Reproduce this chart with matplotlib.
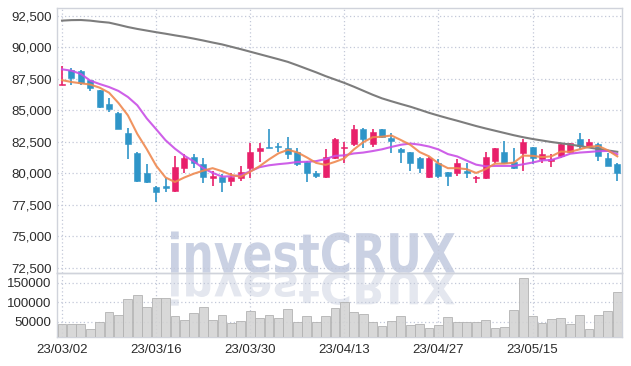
import matplotlib
matplotlib.use("Agg")
import matplotlib.pyplot as plt
import numpy as np
from matplotlib.textpath import TextPath
from matplotlib.font_manager import FontProperties
from matplotlib.patches import PathPatch
from matplotlib.transforms import Affine2D

# ---------------- data ----------------
tick_idx = [0, 10, 20, 30, 40, 50]
tick_labels = ["23/03/02", "23/03/16", "23/03/30", "23/04/13", "23/04/27", "23/05/15"]

opens = [87000, 88200, 88100, 87400, 86600, 85500, 84800, 83200, 81600, 80000,
         78900, 79000, 78600, 80400, 81300, 80700, 79600, 79700, 79400, 79600,
         80400, 81800, 82100, 82200, 82000, 81700, 80900, 80000, 79700, 81200,
         82000, 82300, 83500, 82300, 83500, 82800, 81900, 81700, 81200, 79700,
         80800, 80100, 80000, 80200, 79600, 79600, 81000, 81700, 80900, 81600,
         82100, 81100, 81000, 81400, 81700, 82700, 82200, 82300, 81200, 80700]
highs = [88500, 88400, 88200, 87400, 86600, 86000, 84900, 83600, 81700, 80700,
         79000, 79600, 81400, 81500, 81500, 81200, 80200, 79900, 80000, 80600,
         82400, 82400, 83500, 82400, 82900, 82000, 81000, 80200, 81900, 82800,
         82500, 83800, 83600, 83500, 83500, 83200, 82000, 81700, 81300, 81300,
         81100, 80100, 81100, 80800, 79800, 81700, 82000, 82600, 82000, 82700,
         82100, 81900, 81500, 82400, 82400, 83200, 82700, 82400, 81600, 80800]
lows = [87000, 87000, 87000, 86500, 85200, 84900, 83500, 81100, 79300, 79200,
        77700, 78500, 78500, 80000, 80400, 79200, 79000, 78500, 79000, 79400,
        79600, 80900, 82000, 81700, 81100, 80600, 79300, 79600, 79600, 81100,
        80800, 82200, 82000, 82100, 82800, 81600, 80800, 80200, 80000, 79600,
        79600, 79000, 79800, 79600, 79200, 79500, 80800, 80700, 80300, 80200,
        80700, 80800, 80500, 81200, 81600, 81900, 82100, 81000, 80600, 79400]
closes = [87100, 87600, 87200, 86800, 85300, 85100, 83500, 82300, 79400, 79300,
          78500, 78800, 80500, 81200, 80800, 79700, 79800, 79300, 79700, 80100,
          81700, 82000, 82000, 82100, 81500, 80700, 80000, 79800, 81300, 82700,
          82100, 83500, 82700, 83300, 82900, 82600, 81700, 80800, 80400, 81200,
          79800, 79800, 80800, 80000, 79700, 81300, 82000, 80800, 80400, 82500,
          81200, 81500, 81100, 82300, 82400, 82200, 82500, 81400, 80600, 80000]
volumes = [44100, 44100, 44100, 30500, 49200, 74100, 66400, 107400, 117700, 87700,
           110000, 110000, 63800, 53600, 71500, 86900, 53600, 66400, 46700, 51000,
           76700, 58700, 66400, 58700, 81800, 49200, 63800, 49200, 65400, 84300,
           99700, 75600, 69000, 49200, 39000, 51800, 63800, 40800, 43300, 33100,
           40800, 61300, 48500, 48500, 49200, 53600, 33100, 35600, 79200, 161300,
           63800, 45900, 56200, 58700, 43300, 66400, 30500, 66400, 76700, 125400]
ma_short = [87400, 87250, 87150, 87050, 86800, 86400, 85580, 84600, 83120, 81920,
            80600, 79660, 79300, 79660, 79960, 80200, 80400, 80160, 79860, 79720,
            80120, 80560, 81100, 81580, 81860, 81660, 81260, 80820, 80660, 80900,
            81180, 81880, 82460, 82860, 82900, 83000, 82640, 82260, 81680, 81340,
            80780, 80400, 80400, 80320, 80020, 80320, 80760, 80760, 80840, 81400,
            81380, 81280, 81340, 81720, 81700, 81900, 82100, 82160, 81820, 81340]
ma_mid = [88260, 88150, 87890, 87360, 87090, 86850, 86540, 86060, 85400, 84360,
          83500, 82620, 81950, 81390, 80940, 80400, 80030, 79730, 79760, 79840,
          80160, 80480, 80630, 80720, 80790, 80890, 80910, 80960, 81120, 81380,
          81420, 81570, 81640, 81760, 81900, 82090, 82260, 82360, 82270, 82120,
          81890, 81520, 81330, 81000, 80680, 80550, 80580, 80580, 80580, 80710,
          80850, 81020, 81050, 81280, 81550, 81640, 81690, 81750, 81770, 81510]
ma_long = [92130, 92170, 92180, 92130, 92040, 91970, 91800, 91620, 91470, 91340,
           91210, 91090, 90960, 90840, 90700, 90550, 90390, 90240, 90050, 89860,
           89660, 89460, 89260, 89060, 88850, 88580, 88300, 88020, 87720, 87450,
           87180, 86880, 86560, 86240, 85950, 85720, 85500, 85290, 85050, 84800,
           84580, 84370, 84170, 83960, 83750, 83560, 83380, 83200, 83020, 82860,
           82720, 82600, 82480, 82380, 82280, 82160, 82040, 81920, 81810, 81700]
price_ticks = [72500, 75000, 77500, 80000, 82500, 85000, 87500, 90000, 92500]
vol_ticks = [50000, 100000, 150000]

# ---------------- style ----------------
plt.rcParams['font.family'] = ['Liberation Sans', 'DejaVu Sans']
plt.rcParams['font.size'] = 9.5
PINK = '#e8206a'
BLUE = '#2f95c8'
GRID = '#c3c8d8'
SPINE = '#d0d3db'
W, H = 631, 366

fig = plt.figure(figsize=(W / 100, H / 100), dpi=100)
fig.patch.set_facecolor('white')

left, right = 57.3, 622.0
p_top, p_bot, v_bot = 8.3, 272.7, 337.3
ax = fig.add_axes([left / W, (H - p_bot) / H, (right - left) / W, (p_bot - p_top) / H])
axv = fig.add_axes([left / W, (H - v_bot) / H, (right - left) / W, (v_bot - p_bot) / H], sharex=ax)

# ---------------- watermark ----------------
tp = TextPath((0, 0), "investCRUX", size=100,
              prop=FontProperties(family='DejaVu Sans', weight='bold'))
bb = tp.get_extents()
x0, x1 = 171, 455
base = H - 272.7
top = H - 231.5
sx = (x1 - x0) / bb.width
sy = (top - base) / bb.y1
tr = Affine2D().translate(-bb.x0, 0).scale(sx, sy).translate(x0, base).scale(1 / W, 1 / H) + fig.transFigure
wm = PathPatch(tp, transform=tr, facecolor='#cad1e3', edgecolor='none', zorder=-10)
fig.add_artist(wm)
tr2 = Affine2D().translate(-bb.x0, 0).scale(sx, -sy * 0.8).translate(x0, base).scale(1 / W, 1 / H) + fig.transFigure
wm2 = PathPatch(tp, transform=tr2, facecolor='#e4e7ef', edgecolor='none', zorder=-10)
fig.add_artist(wm2)

# ---------------- price panel ----------------
o = np.array(opens); c = np.array(closes); hi = np.array(highs); lo = np.array(lows)
idx = np.arange(len(o))
cols = np.where(c >= o, PINK, BLUE)
ax.vlines(idx, lo, hi, colors=cols, lw=1.2, zorder=3)
body_bottom = np.minimum(o, c)
body_h = np.maximum(np.abs(c - o), 60)
ax.bar(idx, body_h, bottom=body_bottom, width=0.64, color=cols, edgecolor=cols, lw=0.4, zorder=4)

ax.plot(idx, ma_long, color='#7d7d7d', lw=1.5, zorder=5)
ax.plot(idx, ma_mid, color='#c94fe6', lw=1.5, alpha=0.9, zorder=5)
ax.plot(idx, ma_short, color='#ef8950', lw=1.5, alpha=0.9, zorder=6)

ax.set_facecolor('none')
ax.set_xlim(-0.5, 59.5)
ax.set_ylim(72090, 93110)
ax.set_yticks(price_ticks)
ax.set_yticklabels([f"{v:,}" for v in price_ticks])
ax.set_xticks(tick_idx)
ax.tick_params(axis='both', length=0, colors='#2b2b2b', labelsize=9.5)
ax.tick_params(axis='y', pad=4)
ax.tick_params(axis='x', labelbottom=False)
ax.grid(True, ls=(0, (1, 2)), color=GRID, lw=0.9, zorder=0)
for s in ax.spines.values():
    s.set_color(SPINE)
    s.set_linewidth(1.0)

# ---------------- volume panel ----------------
axv.bar(idx, volumes, width=0.94, color='#d3d3d3', edgecolor='#b3b3b3', lw=0.7, alpha=0.88, zorder=3)
axv.set_facecolor('none')
axv.set_ylim(10000, 175600)
axv.set_yticks(vol_ticks)
axv.set_yticklabels([str(v) for v in vol_ticks])
axv.set_xticks(tick_idx)
axv.set_xticklabels(tick_labels)
axv.tick_params(axis='both', length=0, colors='#2b2b2b', labelsize=9.5)
axv.tick_params(axis='y', pad=4)
axv.tick_params(axis='x', pad=5)
axv.grid(True, ls=(0, (1, 2)), color=GRID, lw=0.9, zorder=0)
for s in axv.spines.values():
    s.set_color(SPINE)
    s.set_linewidth(1.0)

fig.savefig("out.png", dpi=100, facecolor='white')
